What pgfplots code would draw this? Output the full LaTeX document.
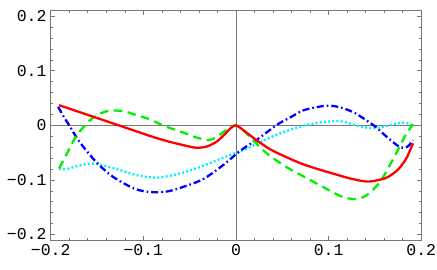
\documentclass[border=0pt]{standalone}
\usepackage{fontspec}
\setmainfont{Liberation Mono}
\usepackage{pgfplots}
\pgfplotsset{compat=1.18}

\definecolor{framegray}{RGB}{120,120,120}
\definecolor{lgreen}{RGB}{0,240,0}
\definecolor{lcyan}{RGB}{0,240,255}

\begin{document}
\begin{tikzpicture}
\begin{axis}[
  name=ax,
  scale only axis, width=370.6bp, height=229.3bp,
  xmin=-0.2, xmax=0.2, ymin=-0.21, ymax=0.21,
  xtick={-0.2,-0.1,0,0.1,0.2}, xticklabels={−0.2,−0.1,0,0.1,0.2},
  ytick={-0.2,-0.1,0,0.1,0.2}, yticklabels={−0.2,−0.1,0,0.1,0.2},
  minor tick num=4,
  tick align=inside,
  major tick length=4bp, minor tick length=2.2bp,
  every tick/.style={framegray, line width=0.6bp},
  axis line style={framegray, line width=0.8bp},
  tick label style={font=\fontsize{16.5bp}{18bp}\selectfont},
  xticklabel style={inner sep=0pt, yshift=-4.5bp},
  yticklabel style={inner sep=0pt, xshift=-4bp},
  extra x ticks={0}, extra y ticks={0},
  extra x tick labels={}, extra y tick labels={},
  extra tick style={grid=major, major grid style={framegray, line width=0.8bp}, major tick length=0pt},
  every axis plot/.append style={line width=2.3bp, smooth, no markers},
]
% cyan dotted
\addplot[lcyan, dash pattern=on 2bp off 2.2bp] coordinates {
(-0.191,-0.079) (-0.183,-0.080) (-0.170,-0.074) (-0.158,-0.070) (-0.149,-0.071)
(-0.140,-0.075) (-0.129,-0.080) (-0.108,-0.091) (-0.093,-0.095) (-0.086,-0.096)
(-0.070,-0.092) (-0.054,-0.085) (-0.040,-0.077) (-0.025,-0.067) (-0.012,-0.058)
(0,-0.050) (0.010,-0.044) (0.022,-0.034) (0.047,-0.015) (0.072,-0.001)
(0.090,0.005) (0.108,0.008) (0.120,0.005) (0.129,0.000) (0.140,-0.004)
(0.150,-0.005) (0.161,-0.002) (0.172,0.003) (0.179,0.005) (0.185,0.004) (0.190,0.0005)};
% blue dash-dot
\addplot[blue, dash pattern=on 7bp off 3bp on 1.6bp off 3bp] coordinates {
(-0.192,0.034) (-0.186,0.016) (-0.180,0.0) (-0.169,-0.030) (-0.151,-0.067)
(-0.133,-0.094) (-0.111,-0.115) (-0.098,-0.121) (-0.086,-0.1225) (-0.074,-0.121)
(-0.061,-0.115) (-0.036,-0.099) (-0.014,-0.073) (0,-0.053) (0.010,-0.040)
(0.022,-0.027) (0.037,-0.008) (0.047,0.004) (0.059,0.015) (0.072,0.027)
(0.086,0.033) (0.098,0.036) (0.107,0.035) (0.118,0.030) (0.129,0.022)
(0.140,0.010) (0.151,-0.003) (0.160,-0.017) (0.169,-0.030) (0.176,-0.039)
(0.181,-0.041) (0.186,-0.038) (0.191,-0.027)};
% green dashed
\addplot[lgreen, dash pattern=on 8.5bp off 5.5bp] coordinates {
(-0.191,-0.079) (-0.182,-0.050) (-0.173,-0.021) (-0.164,-0.002) (-0.155,0.013)
(-0.146,0.022) (-0.137,0.027) (-0.128,0.027) (-0.119,0.025) (-0.108,0.019)
(-0.093,0.011) (-0.079,0.0) (-0.066,-0.008) (-0.054,-0.015) (-0.043,-0.022)
(-0.032,-0.027) (-0.025,-0.025) (-0.018,-0.018) (-0.007,-0.004) (0,0)
(0.005,-0.005) (0.015,-0.021) (0.033,-0.051) (0.054,-0.076) (0.080,-0.100)
(0.105,-0.123) (0.115,-0.131) (0.127,-0.135) (0.138,-0.131) (0.148,-0.118)
(0.158,-0.097) (0.172,-0.054) (0.183,-0.018) (0.191,0.002)};
% red solid
\addplot[red] coordinates {
(-0.191,0.037) (-0.171,0.0255) (-0.151,0.014) (-0.130,0.002) (-0.108,-0.0107)
(-0.090,-0.021) (-0.072,-0.030) (-0.055,-0.037) (-0.043,-0.041) (-0.032,-0.039)
(-0.021,-0.030) (-0.012,-0.016) (-0.005,-0.004) (0,0) (0.005,-0.005)
(0.012,-0.014) (0.022,-0.027) (0.037,-0.044) (0.054,-0.058) (0.072,-0.071)
(0.090,-0.081) (0.108,-0.090) (0.125,-0.098) (0.143,-0.103) (0.161,-0.097)
(0.169,-0.089) (0.176,-0.079) (0.184,-0.060) (0.191,-0.033)};
\end{axis}
\pgfresetboundingbox
\path[use as bounding box] ([shift={(-50.7bp,-30bp)}]ax.south west)
  rectangle ([shift={(15.7bp,10.7bp)}]ax.north east);
\end{tikzpicture}
\end{document}
